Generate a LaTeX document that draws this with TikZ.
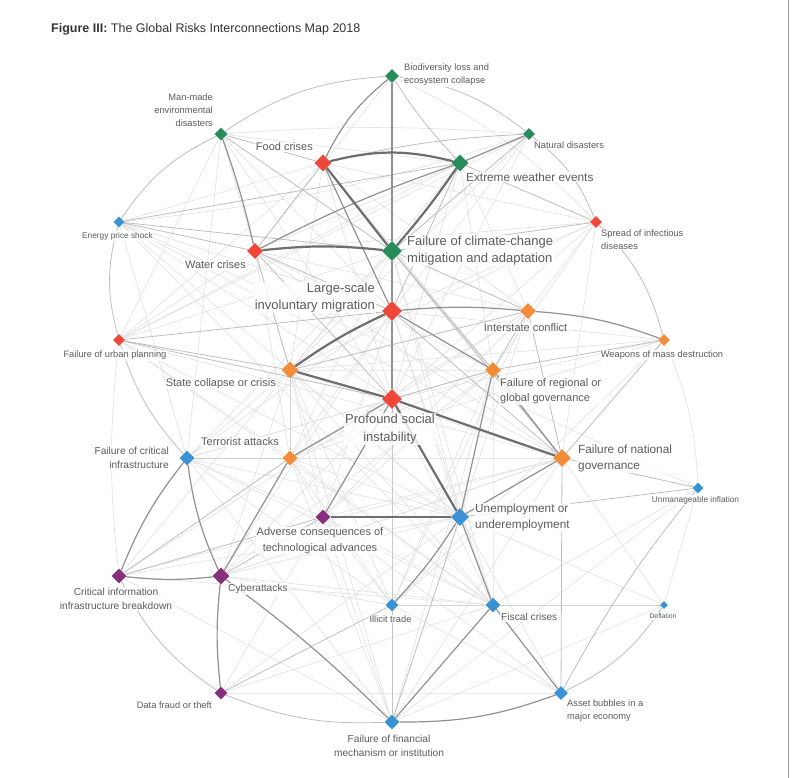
\documentclass[tikz,border=0pt]{standalone}
\usepackage{fontspec}
\setmainfont{Liberation Sans}
\usetikzlibrary{shapes.geometric,positioning,backgrounds}

\definecolor{riskgreen}{RGB}{38,140,92}
\definecolor{riskred}{RGB}{238,70,56}
\definecolor{riskorange}{RGB}{243,140,56}
\definecolor{riskblue}{RGB}{58,146,214}
\definecolor{riskpurple}{RGB}{136,48,126}
\definecolor{labelgray}{RGB}{92,92,92}
\definecolor{titlegray}{RGB}{51,51,51}
\definecolor{strongline}{RGB}{110,110,110}
\definecolor{mediumline}{RGB}{145,145,145}
\definecolor{lightline}{RGB}{190,190,190}
\definecolor{faintline}{RGB}{224,224,224}

\begin{document}
\begin{tikzpicture}[
    x=1pt, y=1pt,
    risk/.style 2 args={diamond, fill=#1, draw=none, inner sep=0, minimum width=#2, minimum height=#2},
    lbl/.style={text=labelgray, fill=white, fill opacity=0.8, text opacity=1, inner sep=1pt},
    lblA/.style={lbl, font=\fontsize{13}{17.5}\selectfont},
    lblB/.style={lbl, font=\fontsize{11.8}{16}\selectfont},
    lblC/.style={lbl, font=\fontsize{11}{15.5}\selectfont},
    lblD/.style={lbl, font=\fontsize{10.2}{14}\selectfont},
    lblE/.style={lbl, font=\fontsize{9.3}{13}\selectfont},
    lblF/.style={lbl, font=\fontsize{8.3}{11}\selectfont},
    lblG/.style={lbl, font=\fontsize{6.8}{9}\selectfont},
    stronglink/.style={draw=strongline, line width=2.2},
    mediumlink/.style={draw=mediumline, line width=1.2},
    lightlink/.style={draw=lightline, line width=0.8},
    faintlink/.style={draw=faintline, line width=0.6}]
\useasboundingbox (0,0) rectangle (792,-778);

% title and frame
\node[anchor=west, text=titlegray, font=\fontsize{12.5}{15}\selectfont, inner sep=0] (title) at (51,-29)
    {\textbf{Figure III:} The Global Risks Interconnections Map 2018};
\draw[gray!75, line width=1.2] (788.5,0) -- (788.5,-778);

% risks
\node[risk={riskgreen}{14}]  (bio)        at (392,-76)  {};
\node[risk={riskgreen}{13}]  (manmade)    at (221,-134) {};
\node[risk={riskgreen}{12}]  (natdis)     at (529,-134) {};
\node[risk={riskred}{17}]    (food)       at (323,-163) {};
\node[risk={riskgreen}{17}]  (extreme)    at (460,-163) {};
\node[risk={riskblue}{11}]   (energy)     at (119,-222) {};
\node[risk={riskred}{12}]    (infect)     at (596,-222) {};
\node[risk={riskred}{16}]    (water)      at (255,-251) {};
\node[risk={riskgreen}{20}]  (climate)    at (392,-251) {};
\node[risk={riskred}{20}]    (migration)  at (392,-311) {};
\node[risk={riskorange}{16}] (interstate) at (528,-311) {};
\node[risk={riskred}{12}]    (urban)      at (119,-340) {};
\node[risk={riskorange}{12}] (wmd)        at (664,-340) {};
\node[risk={riskorange}{17}] (statecol)   at (290,-370) {};
\node[risk={riskorange}{16}] (regional)   at (493,-370) {};
\node[risk={riskred}{20}]    (social)     at (392,-399) {};
\node[risk={riskorange}{18}] (national)   at (562,-458) {};
\node[risk={riskblue}{15}]   (critinf)    at (187,-458) {};
\node[risk={riskorange}{15}] (terror)     at (290,-458) {};
\node[risk={riskblue}{11}]   (inflation)  at (698,-488) {};
\node[risk={riskblue}{18}]   (unemploy)   at (460,-517) {};
\node[risk={riskpurple}{15}] (adverse)    at (323,-517) {};
\node[risk={riskpurple}{15}] (ciib)       at (119,-576) {};
\node[risk={riskpurple}{17}] (cyber)      at (221,-576) {};
\node[risk={riskblue}{13}]   (illicit)    at (392,-605) {};
\node[risk={riskblue}{15}]   (fiscal)     at (493,-605) {};
\node[risk={riskblue}{8}]    (deflation)  at (664,-605) {};
\node[risk={riskpurple}{13}] (datafraud)  at (221,-693) {};
\node[risk={riskblue}{14}]   (asset)      at (561,-693) {};
\node[risk={riskblue}{15}]   (financial)  at (392,-722) {};

% labels
\node[lblE, anchor=west, align=left]   (bio-l)        at (403,-75)    {Biodiversity loss and\\ecosystem collapse};
\node[lblE, anchor=east, align=right]  (manmade-l)    at (214,-110)   {Man-made\\environmental\\disasters};
\node[lblE, anchor=west]               (natdis-l)     at (533,-145)   {Natural disasters};
\node[lblC, anchor=east]               (food-l)       at (314,-147)   {Food crises};
\node[lblB, anchor=west]               (extreme-l)    at (465,-177)   {Extreme weather events};
\node[lblF]                            (energy-l)     at (117.5,-236) {Energy price shock};
\node[lblE, anchor=west, align=left]   (infect-l)     at (600,-239.5) {Spread of infectious\\diseases};
\node[lblC, anchor=east]               (water-l)      at (247,-265)   {Water crises};
\node[lblA, anchor=west, align=left]   (climate-l)    at (406,-250.5) {Failure of climate-change\\mitigation and adaptation};
\node[lblA, anchor=east, align=right]  (migration-l)  at (376,-297.5) {Large-scale\\involuntary migration};
\node[lblC]                            (interstate-l) at (525.5,-328) {Interstate conflict};
\node[lblE]                            (urban-l)      at (115,-355.5) {Failure of urban planning};
\node[lblE]                            (wmd-l)        at (662,-355)   {Weapons of mass destruction};
\node[lblC, anchor=east]               (statecol-l)   at (277,-384)   {State collapse or crisis};
\node[lblC, anchor=west, align=left]   (regional-l)   at (499,-391)   {Failure of regional or\\global governance};
\node[lblA, align=center]              (social-l)     at (390,-429)   {Profound social\\instability};
\node[lblC, anchor=east]               (terror-l)     at (280,-442)   {Terrorist attacks};
\node[lblD, anchor=east, align=right]  (critinf-l)    at (170,-457.5) {Failure of critical\\infrastructure};
\node[lblB, anchor=west, align=left]   (national-l)   at (577,-458)   {Failure of national\\governance};
\node[lblF]                            (inflation-l)  at (695.5,-500) {Unmanageable inflation};
\node[lblB, anchor=west, align=left]   (unemploy-l)   at (474,-517)   {Unemployment or\\underemployment};
\node[lblC, align=center]              (adverse-l)    at (320,-540.5) {Adverse consequences of\\technological advances};
\node[lblD, align=center]              (ciib-l)       at (116,-599)   {Critical information\\infrastructure breakdown};
\node[lblD, anchor=west]               (cyber-l)      at (227,-589)   {Cyberattacks};
\node[lblE]                            (illicit-l)    at (390.5,-619) {Illicit trade};
\node[lblD, anchor=west]               (fiscal-l)     at (500,-617)   {Fiscal crises};
\node[lblG]                            (deflation-l)  at (663,-616)   {Deflation};
\node[lblE, anchor=east]               (datafraud-l)  at (213,-705)   {Data fraud or theft};
\node[lblE, anchor=west, align=left]   (asset-l)      at (566,-711)   {Asset bubbles in a\\major economy};
\node[lblD, align=center]              (financial-l)  at (389,-745.5) {Failure of financial\\mechanism or institution};

% interconnections
\begin{scope}[on background layer]
\foreach \a/\b/\c in {bio/water/0, bio/migration/0, bio/infect/10, manmade/extreme/0, manmade/natdis/4,
    manmade/migration/0, manmade/social/0, manmade/urban/0, manmade/statecol/0, manmade/critinf/0,
    natdis/water/0, natdis/migration/0, natdis/social/0, natdis/statecol/0, natdis/energy/6, natdis/urban/0,
    energy/migration/0, energy/social/0, energy/national/0, energy/fiscal/0, energy/food/0,
    energy/inflation/0, energy/unemploy/0,
    infect/water/0, infect/migration/0, infect/social/0, infect/food/0, infect/statecol/0,
    infect/interstate/0, infect/regional/0, infect/national/0,
    food/statecol/0, food/social/0, food/interstate/0, food/regional/0, food/national/0, food/urban/0,
    extreme/statecol/0, extreme/social/0, extreme/regional/0, extreme/interstate/0,
    water/urban/0, water/interstate/0, water/regional/0, water/national/0, water/terror/0,
    climate/statecol/0, climate/urban/0, climate/social/0, climate/terror/0, climate/unemploy/0,
    climate/critinf/0, climate/illicit/0, climate/fiscal/0,
    migration/terror/0, migration/unemploy/0, migration/wmd/0, migration/adverse/0, migration/illicit/0,
    migration/critinf/0, migration/fiscal/0, migration/cyber/0,
    interstate/terror/0, interstate/social/0, interstate/illicit/0, interstate/unemploy/0, interstate/adverse/0,
    urban/extreme/0, urban/national/0, urban/terror/0, urban/ciib/-6, urban/fiscal/0, urban/unemploy/0,
    wmd/statecol/0, wmd/terror/0, wmd/social/0, wmd/illicit/0, wmd/inflation/10,
    statecol/regional/0, statecol/national/0, statecol/critinf/0, statecol/unemploy/0, statecol/illicit/0,
    statecol/adverse/0, statecol/fiscal/0, statecol/cyber/0, statecol/financial/0,
    regional/terror/0, regional/fiscal/0, regional/illicit/0, regional/adverse/0,
    regional/cyber/0, regional/critinf/0, regional/financial/0,
    social/critinf/0, social/illicit/0, social/fiscal/0, social/cyber/0,
    national/terror/0, national/illicit/0, national/adverse/0, national/critinf/0, national/financial/0,
    national/deflation/0, national/cyber/0,
    critinf/adverse/0, critinf/financial/0, critinf/energy/0, critinf/fiscal/0, critinf/illicit/0,
    terror/adverse/0, terror/illicit/0, terror/unemploy/0, terror/fiscal/0,
    inflation/fiscal/0, inflation/deflation/0, inflation/financial/0,
    unemploy/asset/0, unemploy/deflation/0, unemploy/cyber/0, unemploy/datafraud/0,
    unemploy/critinf/0, unemploy/ciib/0,
    adverse/illicit/0, adverse/financial/0, adverse/fiscal/0, adverse/asset/0,
    ciib/financial/0, ciib/social/0, ciib/national/0, ciib/statecol/0, ciib/fiscal/0,
    cyber/illicit/0, cyber/national/0, cyber/fiscal/0, illicit/asset/0,
    fiscal/datafraud/0, deflation/financial/0, datafraud/asset/0, datafraud/adverse/0, financial/terror/0}
  \draw[faintlink] (\a) to[bend left=\c] (\b);

\foreach \a/\b/\c in {critinf/urban/12, manmade/bio/15, bio/natdis/15, ciib/datafraud/-15, financial/datafraud/12,
    deflation/asset/15, natdis/infect/15, infect/wmd/15, urban/energy/15, energy/manmade/15,
    extreme/migration/0, climate/interstate/0, climate/regional/0, climate/national/0, migration/national/0,
    water/migration/0, food/water/0, statecol/terror/0, water/statecol/0, water/social/0,
    urban/migration/0, urban/social/0, urban/statecol/0, national/asset/0, national/inflation/0,
    social/regional/0, unemploy/financial/0, social/financial/0, bio/extreme/-5,
    manmade/food/0, manmade/climate/0, natdis/climate/0, natdis/food/-5, infect/climate/0, infect/extreme/0,
    energy/water/0, energy/climate/0, energy/extreme/0, interstate/regional/0, interstate/national/0,
    interstate/statecol/0, wmd/regional/0, wmd/national/0, terror/ciib/0, terror/critinf/0,
    adverse/cyber/0, adverse/ciib/0, illicit/fiscal/0, illicit/financial/0, asset/inflation/5,
    inflation/unemploy/0, deflation/fiscal/0, datafraud/illicit/0}
  \draw[lightlink] (\a) to[bend left=\c] (\b);

\foreach \a/\b/\c in {migration/interstate/5, climate/migration/0, migration/social/0, critinf/ciib/-8,
    critinf/cyber/-8, cyber/datafraud/-6, ciib/cyber/-6, food/bio/12, bio/climate/0, interstate/wmd/8,
    social/adverse/0, cyber/financial/4, illicit/unemploy/-5, terror/cyber/0, asset/financial/10,
    fiscal/financial/0, manmade/water/3, extreme/natdis/0, migration/regional/0, food/migration/0,
    water/extreme/4, terror/social/0, national/regional/0, regional/unemploy/0, national/unemploy/0,
    unemploy/fiscal/0, asset/fiscal/0}
  \draw[mediumlink] (\a) to[bend left=\c] (\b);

\foreach \a/\b/\c in {food/extreme/14, food/climate/0, extreme/climate/3, water/climate/6,
    migration/statecol/-5, statecol/social/0, social/national/0, social/unemploy/0, adverse/unemploy/0}
  \draw[stronglink] (\a) to[bend left=\c] (\b);
\end{scope}

\end{tikzpicture}
\end{document}
